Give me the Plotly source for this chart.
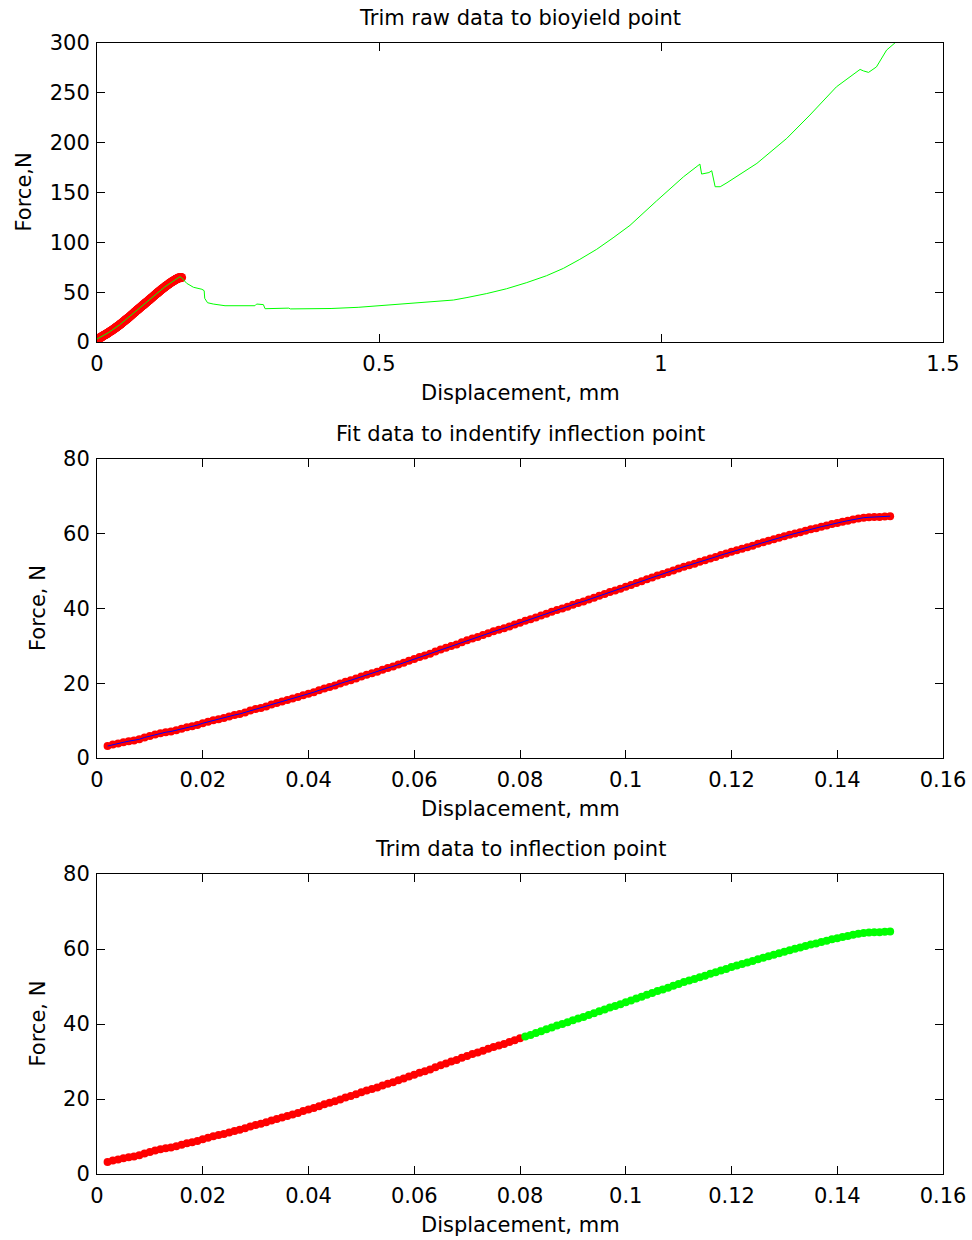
import plotly.graph_objects as go

# ---------------- data ----------------
# trimmed test data (displacement mm, force N) up to the bioyield point
disp = [0.002, 0.003, 0.004, 0.005, 0.006, 0.007, 0.008, 0.009, 0.010, 0.011,
        0.012, 0.013, 0.014, 0.015, 0.016, 0.017, 0.018, 0.019, 0.020, 0.021,
        0.022, 0.023, 0.024, 0.025, 0.026, 0.027, 0.028, 0.029, 0.030, 0.031,
        0.032, 0.033, 0.034, 0.035, 0.036, 0.037, 0.038, 0.039, 0.040, 0.041,
        0.042, 0.043, 0.044, 0.045, 0.046, 0.047, 0.048, 0.049, 0.050, 0.051,
        0.052, 0.053, 0.054, 0.055, 0.056, 0.057, 0.058, 0.059, 0.060, 0.061,
        0.062, 0.063, 0.064, 0.065, 0.066, 0.067, 0.068, 0.069, 0.070, 0.071,
        0.072, 0.073, 0.074, 0.075, 0.076, 0.077, 0.078, 0.079, 0.080, 0.081,
        0.082, 0.083, 0.084, 0.085, 0.086, 0.087, 0.088, 0.089, 0.090, 0.091,
        0.092, 0.093, 0.094, 0.095, 0.096, 0.097, 0.098, 0.099, 0.100, 0.101,
        0.102, 0.103, 0.104, 0.105, 0.106, 0.107, 0.108, 0.109, 0.110, 0.111,
        0.112, 0.113, 0.114, 0.115, 0.116, 0.117, 0.118, 0.119, 0.120, 0.121,
        0.122, 0.123, 0.124, 0.125, 0.126, 0.127, 0.128, 0.129, 0.130, 0.131,
        0.132, 0.133, 0.134, 0.135, 0.136, 0.137, 0.138, 0.139, 0.140, 0.141,
        0.142, 0.143, 0.144, 0.145, 0.146, 0.147, 0.148, 0.149, 0.150]
force = [3.2, 3.6, 3.9, 4.2, 4.5, 4.7, 5.0, 5.5, 5.9, 6.3,
         6.6, 6.9, 7.1, 7.4, 7.8, 8.2, 8.5, 8.8, 9.3, 9.7,
         10.1, 10.4, 10.7, 11.1, 11.5, 11.8, 12.2, 12.7, 13.1, 13.4,
         13.8, 14.3, 14.7, 15.1, 15.5, 15.9, 16.3, 16.8, 17.2, 17.6,
         18.1, 18.6, 19.0, 19.4, 19.9, 20.4, 20.8, 21.3, 21.8, 22.3,
         22.7, 23.1, 23.6, 24.1, 24.5, 25.0, 25.5, 26.0, 26.5, 27.0,
         27.4, 27.9, 28.5, 29.0, 29.5, 30.0, 30.4, 31.0, 31.5, 32.0,
         32.4, 32.9, 33.4, 33.9, 34.3, 34.7, 35.2, 35.7, 36.2, 36.7,
         37.1, 37.6, 38.1, 38.6, 39.1, 39.6, 40.0, 40.5, 41.0, 41.5,
         41.9, 42.4, 42.9, 43.4, 43.9, 44.4, 44.8, 45.3, 45.8, 46.3,
         46.8, 47.3, 47.8, 48.3, 48.8, 49.2, 49.7, 50.2, 50.7, 51.2,
         51.6, 52.0, 52.5, 52.9, 53.4, 53.8, 54.3, 54.7, 55.2, 55.6,
         56.0, 56.4, 56.8, 57.3, 57.7, 58.1, 58.5, 58.9, 59.3, 59.7,
         60.1, 60.4, 60.8, 61.2, 61.5, 61.9, 62.2, 62.6, 62.9, 63.2,
         63.5, 63.8, 64.1, 64.3, 64.4, 64.5, 64.5, 64.6, 64.7]

# raw test data (whole curve)
raw_disp = [0.000, 0.020, 0.040, 0.060, 0.080, 0.100, 0.120, 0.140, 0.147, 0.150,
            0.159, 0.171, 0.186, 0.190, 0.191, 0.196, 0.206, 0.227, 0.280, 0.283,
            0.295, 0.298, 0.336, 0.340, 0.343, 0.413, 0.415, 0.463, 0.514, 0.549,
            0.596, 0.632, 0.656, 0.691, 0.726, 0.762, 0.797, 0.827, 0.856, 0.886,
            0.915, 0.945, 0.992, 1.040, 1.069, 1.072, 1.085, 1.090, 1.096, 1.105,
            1.117, 1.170, 1.223, 1.264, 1.311, 1.353, 1.359, 1.368, 1.382, 1.400,
            1.415, 1.425]
raw_force = [3.0, 9.3, 17.2, 26.5, 36.2, 45.8, 55.2, 62.9, 65.5, 64.5,
             58.9, 54.9, 52.9, 51.5, 43.8, 39.4, 38.1, 36.4, 36.4, 38.1,
             37.5, 33.4, 33.4, 34.0, 33.2, 33.2, 33.6, 34.8, 36.8, 38.1,
             40.1, 42.1, 44.6, 48.6, 53.4, 59.6, 66.5, 73.9, 82.9, 93.0,
             104.5, 117.0, 141.5, 165.8, 178.5, 168.5, 170.0, 171.8, 155.8, 155.8,
             159.8, 179.2, 204.3, 227.7, 256.0, 273.5, 272.0, 270.5, 276.0, 292.9,
             300.2, 310.0]

inflection_disp = 0.080

titles = ["Trim raw data to bioyield point",
          "Fit data to indentify inflection point",
          "Trim data to inflection point"]
xlabel = "Displacement, mm"
ylabels = ["Force,N", "Force, N", "Force, N"]

top_xticks = [0, 0.5, 1, 1.5]
top_xtext = ["0", "0.5", "1", "1.5"]
top_yticks = [0, 50, 100, 150, 200, 250, 300]
low_xticks = [0, 0.02, 0.04, 0.06, 0.08, 0.1, 0.12, 0.14, 0.16]
low_xtext = ["0", "0.02", "0.04", "0.06", "0.08", "0.1", "0.12", "0.14", "0.16"]
low_yticks = [0, 20, 40, 60, 80]

# ---------------- style ----------------
W, H = 972, 1240
FONT = "DejaVu Sans, Liberation Sans, Arial, sans-serif"
FS = 21
RED = "#FF0000"
GREEN = "#00FF00"
BLUE = "#0000FF"
MS = 8

pre = [i for i, d in enumerate(disp) if d <= inflection_disp]
post = [i for i, d in enumerate(disp) if d > inflection_disp]

fig = go.Figure()

# top panel
fig.add_trace(go.Scatter(x=disp, y=force, mode="markers", xaxis="x", yaxis="y",
                         marker=dict(color=RED, size=MS + 1, line=dict(width=0))))
fig.add_trace(go.Scatter(x=raw_disp, y=raw_force, mode="lines", xaxis="x", yaxis="y",
                         line=dict(color=GREEN, width=1)))
# middle panel
fig.add_trace(go.Scatter(x=disp, y=force, mode="markers", xaxis="x2", yaxis="y2",
                         marker=dict(color=RED, size=MS, line=dict(width=0))))
fig.add_trace(go.Scatter(x=disp, y=force, mode="lines", xaxis="x2", yaxis="y2",
                         line=dict(color=BLUE, width=1)))
# bottom panel
fig.add_trace(go.Scatter(x=[disp[i] for i in pre], y=[force[i] for i in pre],
                         mode="markers", xaxis="x3", yaxis="y3",
                         marker=dict(color=RED, size=MS, line=dict(width=0))))
fig.add_trace(go.Scatter(x=[disp[i] for i in post], y=[force[i] for i in post],
                         mode="markers", xaxis="x3", yaxis="y3",
                         marker=dict(color=GREEN, size=MS, line=dict(width=0))))

# axes boxes in pixels: left, right, top, bottom
XL, XR = 97, 943
boxes = [(43, 342), (459, 758), (874, 1174)]


def ax_common():
    return dict(showline=True, linecolor="black", linewidth=1, mirror="allticks",
                ticks="inside", ticklen=8, tickwidth=1, tickcolor="black",
                showgrid=False, zeroline=False, fixedrange=True, automargin=False,
                tickfont=dict(family=FONT, size=FS, color="black"))


layout = dict(template="none", width=W, height=H, margin=dict(l=0, r=0, t=0, b=0, pad=0),
              paper_bgcolor="white", plot_bgcolor="white", showlegend=False)

xdom = [XL / W, XR / W]
specs = [
    ("", [0, 1.5], top_xticks, top_xtext, [0, 300], top_yticks),
    ("2", [0, 0.16], low_xticks, low_xtext, [0, 80], low_yticks),
    ("3", [0, 0.16], low_xticks, low_xtext, [0, 80], low_yticks),
]
for (suf, xr, xt, xtt, yr, yt), (top, bot) in zip(specs, boxes):
    xa = ax_common()
    xa.update(domain=xdom, range=xr, tickvals=xt, ticktext=xtt,
              anchor="y" + suf, ticklabelstandoff=3)
    ya = ax_common()
    ya.update(domain=[1 - bot / H, 1 - top / H], range=yr, tickvals=yt,
              ticktext=[str(v) for v in yt], anchor="x" + suf, ticklabelstandoff=2)
    layout["xaxis" + suf] = xa
    layout["yaxis" + suf] = ya

annotations = []
cx = (XL + XR) / 2 / W
ylab_x = [23, 37.5, 37.5]
for k, (top, bot) in enumerate(boxes):
    annotations.append(dict(text=titles[k], x=cx, y=1 - (top - 25) / H, xref="paper", yref="paper",
                            xanchor="center", yanchor="middle", showarrow=False,
                            font=dict(family=FONT, size=FS, color="black")))
    annotations.append(dict(text=xlabel, x=cx, y=1 - (bot + 51) / H, xref="paper", yref="paper",
                            xanchor="center", yanchor="middle", showarrow=False,
                            font=dict(family=FONT, size=FS, color="black")))
    annotations.append(dict(text=ylabels[k], x=ylab_x[k] / W, y=1 - (top + bot) / 2 / H,
                            xref="paper", yref="paper", textangle=-90,
                            xanchor="center", yanchor="middle", showarrow=False,
                            font=dict(family=FONT, size=FS, color="black")))
layout["annotations"] = annotations

fig.update_layout(**layout)
fig.write_html("out.html")
